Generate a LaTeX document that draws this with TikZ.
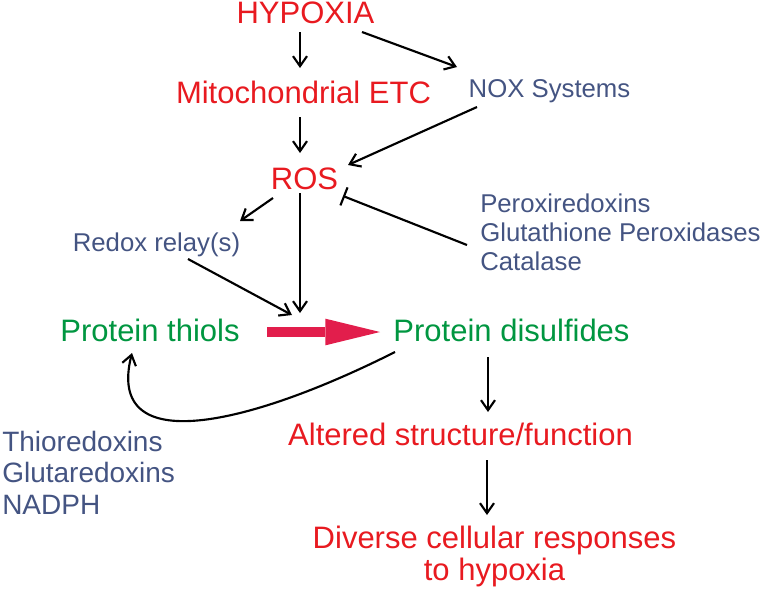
\documentclass[tikz,border=0pt]{standalone}
\usepackage{fontspec}
\setmainfont{Liberation Sans}
\usetikzlibrary{arrows.meta,calc}
\definecolor{redc}{RGB}{232,26,32}
\definecolor{bluec}{RGB}{68,84,130}
\definecolor{greenc}{RGB}{0,150,64}
\definecolor{arrowred}{RGB}{226,30,76}
\begin{document}
\begin{tikzpicture}[x=0.75pt,y=-0.75pt,
  bigfont/.style={font=\fontsize{23.25}{24}\selectfont},
  rtext/.style={bigfont,text=redc,inner sep=0pt,anchor=base},
  gtext/.style={bigfont,text=greenc,inner sep=0pt,anchor=base},
  btext/.style={font=\fontsize{19.3}{21.75}\selectfont,text=bluec,inner sep=0pt},
  bltext/.style={font=\fontsize{21}{23.6}\selectfont,text=bluec,inner sep=0pt},
  arr/.style={draw=black,line width=1.6pt,-{Straight Barb[length=7.5pt,width=10.5pt]}},
  inh/.style={draw=black,line width=1.6pt,-{Bar[width=14.5pt]}},
  fat/.style={draw=arrowred,line width=7.5pt,-{Triangle[length=41pt,width=20pt,line width=0pt]}}
]
\useasboundingbox (0,0) rectangle (763,590);

% nodes
\node[rtext] (hyp) at (305.5,23) {HYPOXIA};
\node[rtext] (mito) at (303.5,103) {Mitochondrial ETC};
\node[btext,anchor=base] (nox) at (549.5,97) {NOX Systems};
\node[rtext] (ros) at (304.5,189) {ROS};
\node[btext,anchor=base] (redox) at (156.5,251) {Redox relay(s)};
\node[btext,anchor=north west,align=left] (perox) at (480,194)
  {Peroxiredoxins\\Glutathione Peroxidases\\Catalase};
\node[gtext] (thiols) at (150,341) {Protein thiols};
\node[gtext] (disulf) at (511.5,341) {Protein disulfides};
\node[bltext,anchor=north west,align=left] (thx) at (2,430.6)
  {Thioredoxins\\Glutaredoxins\\NADPH};
\node[rtext] (alter) at (460.5,445) {Altered structure/function};
\node[bigfont,text=redc,inner sep=0pt,anchor=north,align=center] (diverse) at (494.5,525.4)
  {Diverse cellular responses\\to hypoxia};

% connectors
\draw[arr] ($(hyp.base)+(-5.5,9)$) -- ($(mito.base)+(-3.5,-35)$);
\draw[arr] ($(hyp.base)+(56.5,9)$) -- ($(nox.base)+(-92.5,-30)$);
\draw[arr] ($(mito.base)+(-3.5,14)$) -- ($(ros.base)+(-4.5,-36)$);
\draw[arr] ($(nox.base)+(-72.5,10)$) -- ($(ros.base)+(43.5,-24)$);
\draw[arr] ($(ros.base)+(-31.5,9)$) -- ($(redox.base)+(83.5,-30)$);
\draw[arr] ($(ros.base)+(-4.5,4)$) -- ($(thiols.base)+(150,-28)$);
\draw[arr] ($(redox.base)+(31.5,8)$) -- ($(thiols.base)+(142,-26)$);
\draw[inh] ($(perox.north west)+(-13,51)$) -- ($(ros.base)+(38.5,7)$);
\draw[fat] ($(thiols.base)+(117,-9)$) -- ($(disulf.base)+(-131.5,-9)$);
\draw[arr] ($(disulf.base)+(-116.5,11)$) .. controls (250,425) and (105,460) .. ($(thiols.base)+(-18,12)$);
\draw[arr] ($(disulf.base)+(-23.5,16)$) -- ($(alter.base)+(27.5,-33)$);
\draw[arr] ($(alter.base)+(26.5,15)$) -- ($(diverse.north)+(-7.5,-10.4)$);
\end{tikzpicture}
\end{document}
